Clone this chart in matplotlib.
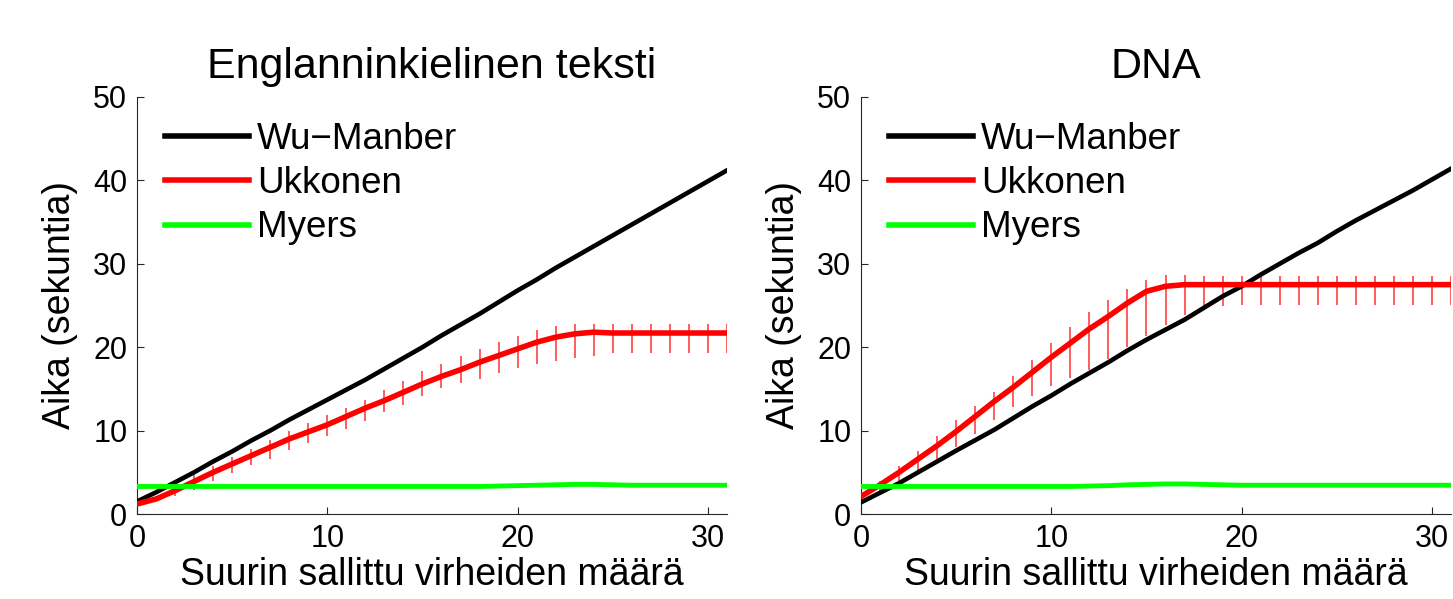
import numpy as np
import matplotlib
matplotlib.use("Agg")
from matplotlib import pyplot as plt

plt.rcParams['font.family'] = ['Liberation Sans', 'DejaVu Sans']

# error limit k = 0..31
k = np.arange(32)

# English text
wu_en = [1.5, 2.6, 3.8, 5.0, 6.3, 7.5, 8.8, 10.0, 11.3, 12.5, 13.7, 14.9, 16.1,
         17.4, 18.7, 20.0, 21.4, 22.7, 24.0, 25.4, 26.8, 28.1, 29.5, 30.8,
         32.1, 33.4, 34.7, 36.0, 37.3, 38.6, 39.9, 41.2]
ukk_en = [1.2, 1.8, 2.8, 3.9, 5.0, 6.0, 7.0, 8.0, 9.0, 9.85, 10.7, 11.7, 12.7,
          13.6, 14.6, 15.6, 16.5, 17.3, 18.2, 19.0, 19.8, 20.6, 21.2, 21.6,
          21.8, 21.7, 21.7, 21.7, 21.7, 21.7, 21.7, 21.7]
ukk_en_lo = [1.0, 1.5, 2.1, 2.9, 3.9, 4.9, 5.9, 6.65, 7.65, 8.5, 9.4, 10.2,
             11.2, 12.2, 13.1, 14.2, 15.1, 15.7, 16.2, 16.9, 17.5, 18.0, 18.3,
             18.7, 19.0, 19.3, 19.3, 19.3, 19.3, 19.3, 19.3, 19.3]
ukk_en_hi = [1.3, 2.2, 3.5, 4.7, 5.7, 6.85, 7.85, 8.85, 10.0, 10.9, 11.9, 12.75,
             13.7, 14.9, 16.0, 17.1, 18.0, 18.9, 19.8, 20.6, 21.4, 22.1, 22.6,
             22.8, 22.8, 22.8, 22.8, 22.8, 22.8, 22.8, 22.8, 22.8]
my_en = [3.3] * 19 + [3.35, 3.4, 3.45, 3.5, 3.55, 3.55, 3.5,
                      3.45, 3.45, 3.45, 3.45, 3.45, 3.45]

# DNA
wu_dna = [1.4, 2.55, 3.7, 5.0, 6.3, 7.6, 8.85, 10.1, 11.5, 12.9, 14.2, 15.6,
          16.9, 18.2, 19.6, 20.9, 22.1, 23.3, 24.7, 26.1, 27.3, 28.7, 30.0,
          31.3, 32.5, 33.9, 35.2, 36.4, 37.6, 38.8, 40.1, 41.4]
ukk_dna = [2.1, 3.5, 5.0, 6.6, 8.2, 9.9, 11.7, 13.5, 15.2, 17.0, 18.8, 20.5,
           22.2, 23.7, 25.3, 26.7, 27.3, 27.5, 27.5, 27.5, 27.5, 27.5, 27.5,
           27.5, 27.5, 27.5, 27.5, 27.5, 27.5, 27.5, 27.5, 27.5]
ukk_dna_lo = [1.9, 2.5, 3.75, 5.1, 6.55, 8.0, 9.6, 11.3, 12.8, 14.1, 15.3,
              16.3, 17.3, 18.6, 20.0, 21.3, 22.7, 23.9, 24.5, 24.9, 25.0, 25.0,
              25.0, 25.0, 25.0, 25.0, 25.0, 25.0, 25.0, 25.0, 25.0, 25.0]
ukk_dna_hi = [2.3, 3.9, 5.75, 7.55, 9.35, 11.3, 12.9, 14.6, 16.5, 18.5, 20.5,
              22.4, 24.2, 25.7, 27.0, 28.1, 28.7, 28.7, 28.5, 28.5, 28.5, 28.5,
              28.5, 28.5, 28.5, 28.5, 28.5, 28.5, 28.5, 28.5, 28.5, 28.5]
my_dna = [3.3] * 12 + [3.35, 3.4, 3.5, 3.55, 3.6, 3.6, 3.55, 3.5] + [3.45] * 12

titles = ["Englanninkielinen teksti", "DNA"]
labels = ["Wu\u2212Manber", "Ukkonen", "Myers"]
xlabel = "Suurin sallittu virheiden määrä"
ylabel = "Aika (sekuntia)"


def panel(ax, title, wu, ukk, lo, hi, my):
    ukk = np.array(ukk)
    yerr = [ukk - np.array(lo), np.array(hi) - ukk]
    ax.errorbar(k, ukk, yerr=yerr, fmt='none', ecolor='#ff3030',
                elinewidth=1.1, capsize=0, zorder=2)
    ax.plot(k, wu, color='k', lw=3.3, label=labels[0], zorder=3)
    ax.plot(k, ukk, color='#ff0000', lw=4.0, label=labels[1], zorder=3)
    ax.plot(k, my, color='#00ff00', lw=3.5, label=labels[2], zorder=4)

    ax.set_xlim(0, 31)
    ax.set_ylim(0, 50)
    ax.set_xticks([0, 10, 20, 30])
    ax.set_yticks([0, 10, 20, 30, 40, 50])
    ax.spines['top'].set_visible(False)
    ax.spines['right'].set_visible(False)
    for s in ('left', 'bottom'):
        ax.spines[s].set_linewidth(0.8)
        ax.spines[s].set_color('#262626')
    ax.tick_params(direction='in', length=5, width=0.8, labelsize=22,
                   color='#262626', pad=7)
    ax.set_title(title, fontsize=31, pad=14)
    ax.set_xlabel(xlabel, fontsize=27, labelpad=2)
    ax.set_ylabel(ylabel, fontsize=27, labelpad=11)
    leg = ax.legend(loc='upper left', bbox_to_anchor=(0.047, 0.94),
                    frameon=False, fontsize=26.5, handlelength=2.3,
                    handletextpad=0.2, labelspacing=0.25, borderpad=0,
                    borderaxespad=0)
    for h in leg.get_lines():
        h.set_linewidth(4)


fig = plt.figure(figsize=(14.53, 5.99), dpi=100)
ax1 = fig.add_axes([0.0943, 0.1419, 0.406, 0.6962])
ax2 = fig.add_axes([0.5926, 0.1419, 0.406, 0.6962])

panel(ax1, titles[0], wu_en, ukk_en, ukk_en_lo, ukk_en_hi, my_en)
panel(ax2, titles[1], wu_dna, ukk_dna, ukk_dna_lo, ukk_dna_hi, my_dna)

fig.savefig("out.png", dpi=100)
